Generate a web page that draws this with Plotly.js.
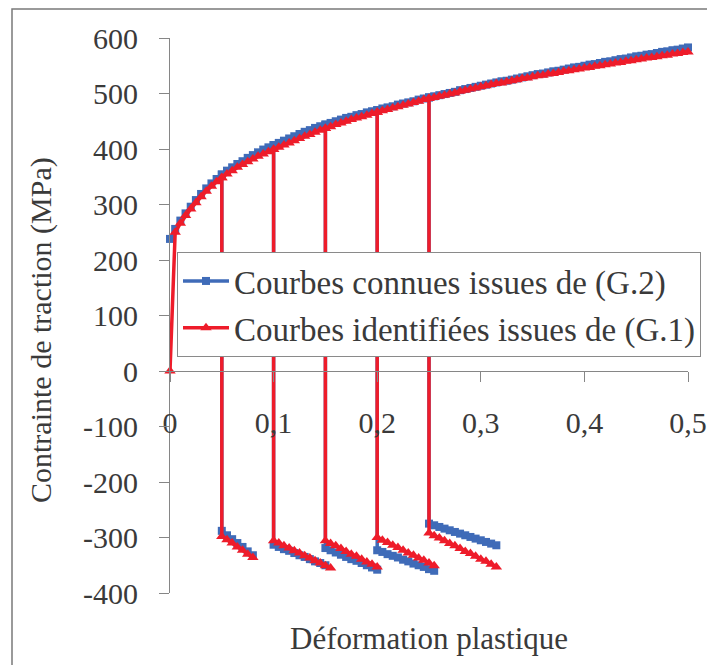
<!DOCTYPE html>
<html>
<head>
<meta charset="utf-8">
<script src="https://cdn.plot.ly/plotly-3.0.1.min.js"></script>
<style>html,body{margin:0;padding:0;background:#fff;}#chart{width:707px;height:665px;}</style>
</head>
<body>
<div id="chart"></div>
<script>
// Plastic strain grid of the tensile curves
const strain = [0,0.005,0.01,0.015,0.02,0.025,0.03,0.035,0.04,0.045,0.05,0.055,0.06,0.065,0.07,0.075,0.08,0.085,0.09,0.095,
  0.1,0.105,0.11,0.115,0.12,0.125,0.13,0.135,0.14,0.145,0.15,0.155,0.16,0.165,0.17,0.175,0.18,0.185,0.19,0.195,
  0.2,0.205,0.21,0.215,0.22,0.225,0.23,0.235,0.24,0.245,0.25,0.255,0.26,0.265,0.27,0.275,0.28,0.285,0.29,0.295,
  0.3,0.305,0.31,0.315,0.32,0.325,0.33,0.335,0.34,0.345,0.35,0.355,0.36,0.365,0.37,0.375,0.38,0.385,0.39,0.395,
  0.4,0.405,0.41,0.415,0.42,0.425,0.43,0.435,0.44,0.445,0.45,0.455,0.46,0.465,0.47,0.475,0.48,0.485,0.49,0.495,0.5];

// Courbes connues issues de (G.2) - tensile part
const stressG2 = [238,256,271,284,296,308,319,329,338,346,354,361,367,373,378,384,389,394,399,403,
  407,411,415,419,423,427,431,434,438,441,444,447,450,453,456,458,461,463,466,468,
  470,473,475,477,480,482,484,486,489,491,493,495,497,499,501,503,506,508,510,512,
  514,516,518,520,522,523,525,527,529,531,533,535,536,538,540,541,543,545,547,548,
  550,552,553,555,557,558,560,562,563,565,567,568,570,571,573,575,576,578,579,581,583];

// Courbes identifiées issues de (G.1) - tensile part
const stressG1 = [0,250,266,280,292,303,314,324,333,341,348,355,361,367,372,377,382,387,391,395,
  399,403,407,411,415,419,423,426,430,434,437,440,444,447,450,453,456,458,461,464,
  466,469,471,474,476,479,481,484,486,489,491,493,495,497,499,501,504,506,508,510,
  512,514,516,518,519,521,523,525,527,528,530,532,533,535,536,538,540,541,543,544,
  546,547,549,550,552,553,555,556,558,559,561,562,564,565,566,568,569,571,572,574,575];

// Pre-strain levels where the load is reversed
const prestrain = [0.05, 0.1, 0.15, 0.2, 0.25];
const topG2 = [354, 407, 444, 470, 493];
const topG1 = [348, 399, 437, 466, 491];

// Compression branches, strain values
const segStrainG2 = [
  [0.05,0.055,0.06,0.065,0.07,0.075,0.08],
  [0.1,0.105,0.11,0.115,0.12,0.125,0.13,0.135,0.14,0.145,0.15],
  [0.15,0.155,0.16,0.165,0.17,0.175,0.18,0.185,0.19,0.195,0.2],
  [0.2,0.205,0.21,0.215,0.22,0.225,0.23,0.235,0.24,0.245,0.25,0.255],
  [0.25,0.255,0.26,0.265,0.27,0.275,0.28,0.285,0.29,0.295,0.3,0.305,0.31,0.315]
];
const segStressG2 = [
  [-288,-296,-303,-310,-317,-325,-332],
  [-313,-317,-321,-324,-328,-332,-335,-339,-343,-346,-350],
  [-319,-323,-327,-331,-335,-339,-342,-346,-350,-354,-358],
  [-323,-326,-330,-333,-336,-340,-343,-347,-350,-353,-357,-360],
  [-275,-278,-281,-284,-287,-290,-293,-296,-299,-302,-305,-308,-311,-314]
];
const segStrainG1 = [
  [0.05,0.055,0.06,0.065,0.07,0.075,0.08],
  [0.1,0.105,0.11,0.115,0.12,0.125,0.13,0.135,0.14,0.145,0.15,0.155],
  [0.15,0.155,0.16,0.165,0.17,0.175,0.18,0.185,0.19,0.195,0.2],
  [0.2,0.205,0.21,0.215,0.22,0.225,0.23,0.235,0.24,0.245,0.25,0.255],
  [0.25,0.255,0.26,0.265,0.27,0.275,0.28,0.285,0.29,0.295,0.3,0.305,0.31,0.315]
];
const segStressG1 = [
  [-298,-304,-310,-317,-323,-330,-336],
  [-306,-310,-315,-319,-324,-328,-333,-337,-342,-346,-351,-355],
  [-306,-311,-315,-320,-325,-330,-334,-339,-344,-348,-353],
  [-300,-305,-309,-314,-318,-323,-328,-332,-337,-341,-346,-351],
  [-292,-297,-301,-306,-311,-315,-320,-325,-329,-334,-339,-343,-348,-353]
];

const xTickVals = [0, 0.1, 0.2, 0.3, 0.4, 0.5];
const xTickText = ['0', '0,1', '0,2', '0,3', '0,4', '0,5'];
const yTickVals = [600, 500, 400, 300, 200, 100, 0, -100, -200, -300, -400];
const yTickText = ['600', '500', '400', '300', '200', '100', '0', '-100', '-200', '-300', '-400'];

function build(curveX, curveY, tops, segX, segY) {
  let x = curveX.slice(), y = curveY.slice();
  prestrain.forEach((p, i) => {
    x.push(null); y.push(null);
    x.push(p); y.push(tops[i]);
    x = x.concat(segX[i]); y = y.concat(segY[i]);
  });
  return {x, y};
}
const g2 = build(strain, stressG2, topG2, segStrainG2, segStressG2);
const g1 = build(strain, stressG1, topG1, segStrainG1, segStressG1);

const blue = '#3F6BB8', red = '#EE1C2A';
const textCol = '#3a3a3a';
const serif = 'Liberation Serif, Times New Roman, serif';

const traces = [
  {x: g2.x, y: g2.y, type: 'scatter', mode: 'lines+markers', name: 'Courbes connues issues de (G.2)',
   line: {color: blue, width: 3.5}, marker: {symbol: 'square', size: 8, color: blue},
   connectgaps: false, cliponaxis: false, legendgroup: 'a'},
  {x: g1.x, y: g1.y, type: 'scatter', mode: 'lines+markers', name: 'Courbes identifiées issues de (G.1)',
   line: {color: red, width: 3.5}, marker: {symbol: 'triangle-up', size: 10, color: red},
   connectgaps: false, cliponaxis: false, legendgroup: 'b'}
];

const L = 170, R = 19, T = 38, B = 72;
const pw = 707 - L - R, ph = 665 - T - B;

const layout = {
  width: 707, height: 665,
  margin: {l: L, r: R, t: T, b: B, pad: 0, autoexpand: false},
  paper_bgcolor: '#fff', plot_bgcolor: '#fff',
  showlegend: true,
  font: {family: serif, size: 30, color: textCol},
  xaxis: {
    range: [0, 0.5], anchor: 'free', position: 0.4, automargin: false,
    tickmode: 'array', tickvals: xTickVals, ticktext: xTickText, tickangle: 0,
    ticks: 'outside', ticklen: 10, tickcolor: '#868686', tickwidth: 1,
    showline: true, linecolor: '#868686', linewidth: 1, showgrid: false, zeroline: false,
    ticklabelstandoff: 15,
    tickfont: {family: serif, size: 30, color: textCol}
  },
  yaxis: {
    range: [-400, 600], tickmode: 'array', tickvals: yTickVals, ticktext: yTickText, automargin: false,
    ticks: 'outside', ticklen: 10, tickcolor: '#868686', tickwidth: 1,
    showline: true, linecolor: '#868686', linewidth: 1, showgrid: false, zeroline: false,
    ticklabelstandoff: 15,
    tickfont: {family: serif, size: 30, color: textCol}
  },
  legend: {
    xref: 'container', yref: 'container',
    x: 177 / 707, y: 1 - 252 / 665, xanchor: 'left', yanchor: 'top',
    bgcolor: '#fff', bordercolor: '#8a8a8a', borderwidth: 1,
    font: {family: serif, size: 33, color: textCol},
    itemwidth: 46,
    traceorder: 'grouped', tracegroupgap: 1
  },
  annotations: [
    {
      text: 'Déformation plastique', xref: 'paper', yref: 'paper', x: 0.5, y: 1 - (638 - T) / ph,
      xanchor: 'center', yanchor: 'middle', showarrow: false,
      font: {family: serif, size: 31, color: textCol}
    },
    {
      text: 'Contrainte de traction (MPa)', xref: 'paper', yref: 'paper', x: (41 - L) / pw, y: 1 - (330 - T) / ph,
      xanchor: 'center', yanchor: 'middle', textangle: -90, showarrow: false,
      font: {family: serif, size: 30, color: textCol}
    }
  ],
  shapes: [{
    type: 'rect', xref: 'paper', yref: 'paper',
    x0: (12 - L) / pw, x1: 2, y0: -1, y1: 1 + (T - 9) / ph,
    line: {color: '#7a7a7a', width: 1.5}, fillcolor: 'rgba(0,0,0,0)', layer: 'below'
  }]
};

Plotly.newPlot('chart', traces, layout, {displayModeBar: false, staticPlot: true});
</script>
</body>
</html>
